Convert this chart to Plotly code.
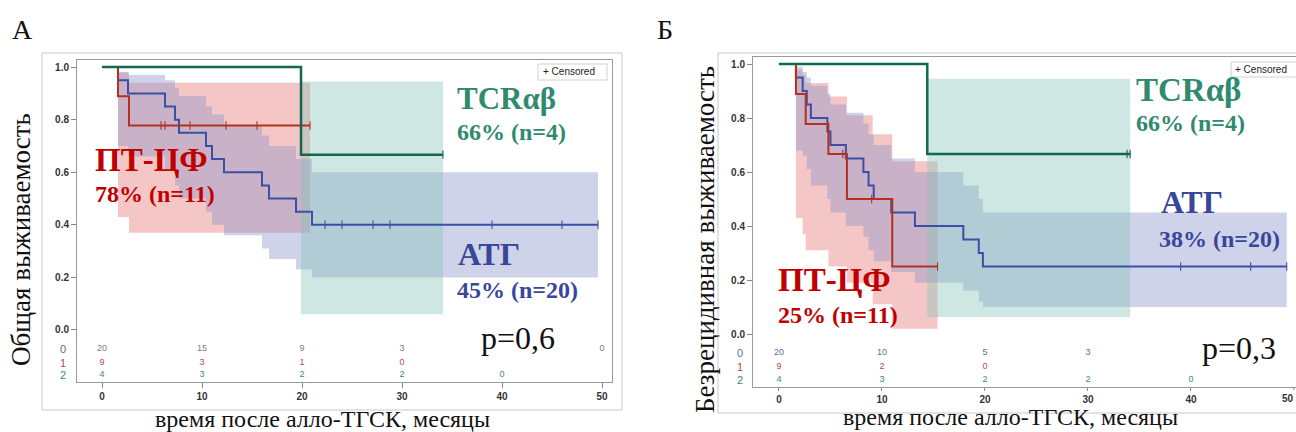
import plotly.graph_objects as go

W, H = 1296, 432

# ---------------- Panel A (overall survival) ----------------
A_atg_t = [0, 1.6, 2.6, 6.3, 7.3, 7.7, 10.4, 11.0, 12.2, 16.0, 16.7, 19.4, 21.0, 49.6]
A_atg_s = [1.0, 0.95, 0.90, 0.85, 0.80, 0.75, 0.70, 0.65, 0.60, 0.55, 0.50, 0.45, 0.40, 0.40]
A_atg_cens = [22.3, 24.0, 27.1, 28.8, 39.0, 46.0, 49.6]
A_atg_band_t = [1.6, 2.6, 6.3, 7.3, 7.7, 10.4, 11.0, 12.2, 16.0, 16.7, 19.4, 21.0, 49.6]
A_atg_lo = [0.70, 0.66, 0.61, 0.55, 0.50, 0.45, 0.40, 0.36, 0.31, 0.27, 0.23, 0.20, 0.20]
A_atg_hi = [0.98, 0.97, 0.95, 0.92, 0.89, 0.85, 0.82, 0.78, 0.74, 0.70, 0.65, 0.60, 0.60]

A_ptcy_t = [0, 1.6, 2.7, 20.8]
A_ptcy_s = [1.0, 0.889, 0.778, 0.778]
A_ptcy_cens = [5.9, 6.3, 8.8, 12.4, 15.5, 20.8]
A_ptcy_band_t = [1.6, 2.7, 20.8]
A_ptcy_lo = [0.43, 0.37, 0.37]
A_ptcy_hi = [0.98, 0.94, 0.94]

A_tcr_t = [0, 19.9, 34.1]
A_tcr_s = [1.0, 0.667, 0.667]
A_tcr_cens = [34.1]
A_tcr_band_t = [19.9, 34.1]
A_tcr_lo = [0.06, 0.06]
A_tcr_hi = [0.945, 0.945]

A_risk0_x = [0, 10, 20, 30, 50]
A_risk0_n = [20, 15, 9, 3, 0]
A_risk1_x = [0, 10, 20, 30]
A_risk1_n = [9, 3, 1, 0]
A_risk2_x = [0, 10, 20, 30, 40]
A_risk2_n = [4, 3, 2, 2, 0]

# ---------------- Panel B (relapse-free survival) ----------------
B_atg_t = [0, 1.65, 2.3, 2.7, 3.1, 4.7, 5.0, 6.5, 8.2, 8.7, 9.2, 10.9, 13.2, 17.9, 19.4, 19.8, 49.3]
B_atg_s = [1.0, 0.95, 0.90, 0.85, 0.80, 0.75, 0.70, 0.65, 0.60, 0.55, 0.50, 0.45, 0.40, 0.35, 0.30, 0.25, 0.25]
B_atg_cens = [39.0, 45.8, 49.3]
B_atg_band_t = [1.65, 2.3, 2.7, 3.1, 4.7, 5.0, 6.5, 8.2, 8.7, 9.2, 10.9, 13.2, 17.9, 19.4, 19.8, 49.3]
B_atg_lo = [0.68, 0.66, 0.61, 0.55, 0.50, 0.45, 0.40, 0.36, 0.31, 0.27, 0.23, 0.19, 0.16, 0.12, 0.10, 0.10]
B_atg_hi = [0.99, 0.97, 0.95, 0.92, 0.89, 0.85, 0.82, 0.78, 0.74, 0.70, 0.65, 0.60, 0.55, 0.50, 0.45, 0.45]

B_ptcy_t = [0, 1.65, 2.6, 4.8, 6.6, 11.0, 15.4]
B_ptcy_s = [1.0, 0.889, 0.778, 0.667, 0.50, 0.25, 0.25]
B_ptcy_cens = [6.2, 9.0, 15.4]
B_ptcy_band_t = [1.65, 2.3, 2.6, 4.8, 6.6, 9.1, 11.0, 15.4]
B_ptcy_lo = [0.43, 0.37, 0.31, 0.25, 0.19, 0.11, 0.02, 0.02]
B_ptcy_hi = [0.98, 0.96, 0.93, 0.88, 0.81, 0.74, 0.64, 0.64]

B_tcr_t = [0, 14.4, 34.1]
B_tcr_s = [1.0, 0.667, 0.667]
B_tcr_cens = [33.8, 34.1]
B_tcr_band_t = [14.4, 34.1]
B_tcr_lo = [0.063, 0.063]
B_tcr_hi = [0.945, 0.945]

B_risk0_x = [0, 10, 20, 30]
B_risk0_n = [20, 10, 5, 3]
B_risk1_x = [0, 10, 20]
B_risk1_n = [9, 2, 0]
B_risk2_x = [0, 10, 20, 30, 40]
B_risk2_n = [4, 3, 2, 2, 0]

x_ticks = [0, 10, 20, 30, 40, 50]
y_ticks = [0.0, 0.2, 0.4, 0.6, 0.8, 1.0]
y_ticktext = ["0.0", "0.2", "0.4", "0.6", "0.8", "1.0"]

# colours
C_TCR_LINE = "#11694f"
C_PT_LINE = "#b3311f"
C_ATG_LINE = "#3a4fa6"
C_TCR_BAND = "rgba(135,195,182,0.40)"
C_PT_BAND = "rgba(232,120,120,0.42)"
C_ATG_BAND = "rgba(135,145,200,0.40)"
C_TCR_TXT = "#2f8a70"
C_PT_TXT = "#c00000"
C_ATG_TXT = "#38479a"

SERIF = "Liberation Serif"
SANS = "Liberation Sans, Arial, sans-serif"


def px(x):
    return x / W


def py(y):
    return 1 - y / H


fig = go.Figure()


def add_band(t, lo, hi, color, xa, ya):
    fig.add_trace(go.Scatter(x=t, y=hi, mode="lines", line=dict(width=0, shape="hv"),
                             hoverinfo="skip", xaxis=xa, yaxis=ya))
    fig.add_trace(go.Scatter(x=t, y=lo, mode="lines", line=dict(width=0, shape="hv"),
                             fill="tonexty", fillcolor=color, hoverinfo="skip",
                             xaxis=xa, yaxis=ya))


def add_curve(t, s, cens, color, width, xa, ya):
    fig.add_trace(go.Scatter(x=t, y=s, mode="lines", line=dict(color=color, width=width, shape="hv"),
                             xaxis=xa, yaxis=ya))
    cy = []
    for c in cens:
        level = s[0]
        for ti, si in zip(t, s):
            if ti <= c:
                level = si
        cy.append(level)
    fig.add_trace(go.Scatter(x=cens, y=cy, mode="markers",
                             marker=dict(symbol="line-ns", size=6, line=dict(color=color, width=1.1)),
                             xaxis=xa, yaxis=ya))


def add_risk(xs, ns, yv, color, xa, ya):
    fig.add_trace(go.Scatter(x=xs, y=[yv] * len(xs), mode="text", text=[str(n) for n in ns],
                             textfont=dict(family=SANS, size=9, color=color),
                             xaxis=xa, yaxis=ya))


# Panel A
add_band(A_ptcy_band_t, A_ptcy_lo, A_ptcy_hi, C_PT_BAND, "x", "y")
add_band(A_atg_band_t, A_atg_lo, A_atg_hi, C_ATG_BAND, "x", "y")
add_band(A_tcr_band_t, A_tcr_lo, A_tcr_hi, C_TCR_BAND, "x", "y")
add_curve(A_atg_t, A_atg_s, A_atg_cens, C_ATG_LINE, 2, "x", "y")
add_curve(A_ptcy_t, A_ptcy_s, A_ptcy_cens, C_PT_LINE, 2, "x", "y")
add_curve(A_tcr_t, A_tcr_s, A_tcr_cens, C_TCR_LINE, 2.5, "x", "y")
add_risk(A_risk0_x, A_risk0_n, -0.072, "#7a7a7a", "x", "y")
add_risk(A_risk1_x, A_risk1_n, -0.125, "#b24a5a", "x", "y")
add_risk(A_risk2_x, A_risk2_n, -0.171, "#3d8c6c", "x", "y")

# Panel B
add_band(B_ptcy_band_t, B_ptcy_lo, B_ptcy_hi, C_PT_BAND, "x2", "y2")
add_band(B_atg_band_t, B_atg_lo, B_atg_hi, C_ATG_BAND, "x2", "y2")
add_band(B_tcr_band_t, B_tcr_lo, B_tcr_hi, C_TCR_BAND, "x2", "y2")
add_curve(B_atg_t, B_atg_s, B_atg_cens, C_ATG_LINE, 2, "x2", "y2")
add_curve(B_ptcy_t, B_ptcy_s, B_ptcy_cens, C_PT_LINE, 2, "x2", "y2")
add_curve(B_tcr_t, B_tcr_s, B_tcr_cens, C_TCR_LINE, 2.5, "x2", "y2")
add_risk(B_risk0_x, B_risk0_n, -0.070, "#5c6aa8", "x2", "y2")
add_risk(B_risk1_x, B_risk1_n, -0.122, "#b24a5a", "x2", "y2")
add_risk(B_risk2_x, B_risk2_n, -0.170, "#3d8c6c", "x2", "y2")

axis_common = dict(showgrid=False, zeroline=False, showline=True, linecolor="#9a9a9a", linewidth=1,
                   mirror=True, ticks="outside", tickcolor="#888",
                   tickfont=dict(family=SANS, size=10, color="#333", weight="bold"))

fig.update_layout(
    width=W, height=H, margin=dict(l=0, r=0, t=0, b=0),
    paper_bgcolor="white", plot_bgcolor="white", showlegend=False,
    xaxis=dict(domain=[px(77), px(612)], range=[-2.5, 51.0], tickvals=x_ticks, anchor="y", ticklen=5,
               **axis_common),
    yaxis=dict(domain=[py(382), py(60)], range=[-0.198, 1.027], tickvals=y_ticks, ticktext=y_ticktext,
               anchor="x", ticklen=5, **axis_common),
    xaxis2=dict(domain=[px(753), 1.0], range=[-2.52, 50.2], tickvals=x_ticks[:-1], anchor="y2", ticklen=3,
                **axis_common),
    yaxis2=dict(domain=[py(387), py(57)], range=[-0.196, 1.026], tickvals=y_ticks, ticktext=y_ticktext,
                anchor="x2", ticklen=5, **axis_common),
)

shapes = [
    dict(type="rect", xref="paper", yref="paper", x0=px(42), x1=px(622), y0=py(410), y1=py(53),
         line=dict(color="#c8c8c8", width=1), layer="below"),
    dict(type="rect", xref="paper", yref="paper", x0=px(718), x1=px(1310), y0=py(413), y1=py(53),
         line=dict(color="#c8c8c8", width=1), layer="below"),
    dict(type="rect", xref="paper", yref="paper", x0=px(538), x1=px(607), y0=py(80), y1=py(64),
         line=dict(color="#d0d0d0", width=1), fillcolor="white"),
    dict(type="rect", xref="paper", yref="paper", x0=px(1231), x1=px(1300), y0=py(77), y1=py(62),
         line=dict(color="#d0d0d0", width=1), fillcolor="white"),
    # tick at x=50 of panel B (at the picture edge)
    dict(type="line", xref="x2", yref="paper", x0=50, x1=50, y0=py(387), y1=py(390),
         line=dict(color="#888", width=1)),
]
fig.update_layout(shapes=shapes)

ann = []


def text(x, y, s, size, color, family=SERIF, bold=False, xanchor="left", textangle=0, yref="paper",
         xref="paper", yanchor="middle"):
    f = dict(family=family, size=size, color=color)
    if bold:
        f["weight"] = "bold"
    ann.append(dict(x=x, y=y, xref=xref, yref=yref, text=s,
                    showarrow=False, xanchor=xanchor, yanchor=yanchor, textangle=textangle,
                    font=f))


# panel letters
text(px(22), py(30), "А", 28, "#111", xanchor="center")
text(px(665), py(30), "Б", 28, "#111", xanchor="center")

# axis titles
text(px(21), py(240), "Общая выживаемость", 27, "#111", xanchor="center", textangle=-90)
text(px(705), py(240), "Безрецидивная выживаемость", 27, "#111", xanchor="center", textangle=-90)
text(px(322), py(419), "время после алло-ТГСК, месяцы", 24, "#111", xanchor="center")
text(px(1010), 0, "время после алло-ТГСК, месяцы", 24, "#111", xanchor="center", yanchor="bottom")

# tick label 50 at the right edge of panel B
ann.append(dict(x=1.0, y=py(398), xref="paper", yref="paper", text="50", showarrow=False,
                xanchor="right", yanchor="middle",
                font=dict(family=SANS, size=10, color="#333", weight="bold")))

# censored legends
text(px(541), py(72), "+ Censored", 10, "#222", family=SANS)
text(px(1233), py(69), "+ Censored", 10, "#222", family=SANS)

# panel A group labels
text(px(455), py(98), "TCRαβ", 31, C_TCR_TXT, bold=True)
text(px(455), py(132), "66% (n=4)", 24, C_TCR_TXT, bold=True)
text(px(93), py(160), "ПТ-ЦФ", 33, C_PT_TXT, bold=True)
text(px(93), py(194), "78% (n=11)", 24, C_PT_TXT, bold=True)
text(px(456), py(254), "АТГ", 32, C_ATG_TXT, bold=True)
text(px(455), py(290), "45% (n=20)", 24, C_ATG_TXT, bold=True)
text(px(479), py(338), "p=0,6", 32, "#111")

# panel B group labels
text(px(1134), py(90), "TCRαβ", 33, C_TCR_TXT, bold=True)
text(px(1134), py(123), "66% (n=4)", 24, C_TCR_TXT, bold=True)
text(px(1159), py(202), "АТГ", 32, C_ATG_TXT, bold=True)
text(px(1157), py(239), "38% (n=20)", 24, C_ATG_TXT, bold=True)
text(px(776), py(280), "ПТ-ЦФ", 33, C_PT_TXT, bold=True)
text(px(776), py(315), "25% (n=11)", 24, C_PT_TXT, bold=True)
text(px(1200), py(348), "p=0,3", 32, "#111")

# at-risk row labels
for lbl, yv, col in [("0", -0.072, "#6a6a7a"), ("1", -0.125, "#b24a5a"), ("2", -0.171, "#3d8c6c")]:
    text(px(63), yv, lbl, 11, col, family=SANS, xanchor="center", yref="y")
for lbl, yv, col in [("0", -0.070, "#5c6aa8"), ("1", -0.122, "#b24a5a"), ("2", -0.170, "#3d8c6c")]:
    text(px(740), yv, lbl, 11, col, family=SANS, xanchor="center", yref="y2")

fig.update_layout(annotations=ann)

fig.write_html("out.html")
